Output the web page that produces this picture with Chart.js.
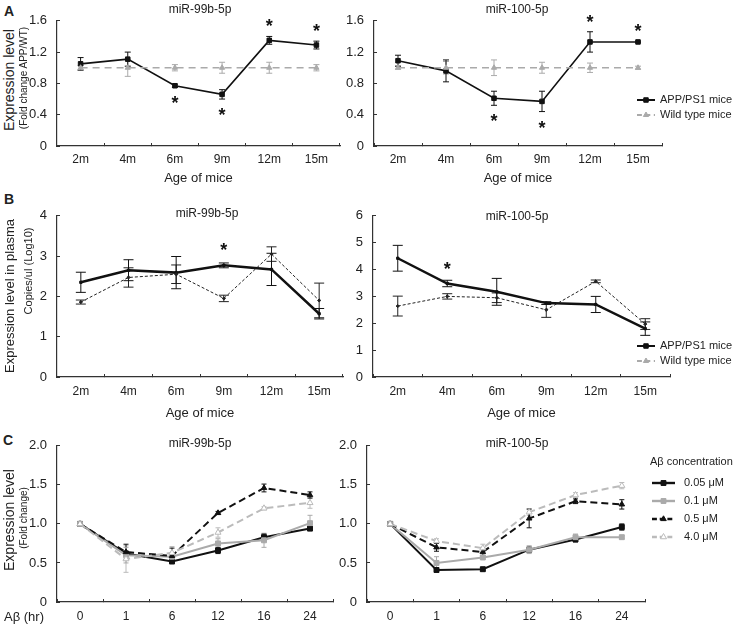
<!DOCTYPE html>
<html>
<head>
<meta charset="utf-8">
<script src="https://cdn.jsdelivr.net/npm/chart.js@4.4.0/dist/chart.umd.min.js"></script>
<style>
body{margin:0;background:#fff;font-family:"Liberation Sans",Arial,sans-serif;color:#222}
#fig{position:relative;width:734px;height:624px;overflow:hidden}
canvas{position:absolute}
.t{position:absolute;white-space:nowrap;transform:translate(-50%,-50%);line-height:1}
.r{transform:translate(-50%,-50%) rotate(-90deg)}
.ltr{position:absolute;font-weight:bold;font-size:14px;line-height:1}
</style>
</head>
<body>
<div id="fig">
  <canvas id="a1"></canvas><canvas id="a2"></canvas>
  <canvas id="b1"></canvas><canvas id="b2"></canvas>
  <canvas id="c1"></canvas><canvas id="c2"></canvas>

  <div class="ltr" style="left:4px;top:4px">A</div>
  <div class="ltr" style="left:4px;top:192px">B</div>
  <div class="ltr" style="left:3px;top:433px">C</div>

  <div class="t" style="left:200px;top:9px;font-size:12px">miR-99b-5p</div>
  <div class="t" style="left:517px;top:9px;font-size:12px">miR-100-5p</div>
  <div class="t" style="left:207px;top:213px;font-size:12px">miR-99b-5p</div>
  <div class="t" style="left:517px;top:216px;font-size:12px">miR-100-5p</div>
  <div class="t" style="left:200px;top:443px;font-size:12px">miR-99b-5p</div>
  <div class="t" style="left:517px;top:443px;font-size:12px">miR-100-5p</div>

  <div class="t r" style="left:9px;top:80px;font-size:14px">Expression level</div>
  <div class="t r" style="left:24px;top:78px;font-size:10px">(Fold change APP/WT)</div>
  <div class="t r" style="left:9px;top:296px;font-size:13px">Expression level in plasma</div>
  <div class="t r" style="left:28px;top:271px;font-size:11px">Copies/ul (Log10)</div>
  <div class="t r" style="left:9px;top:520px;font-size:14px">Expression level</div>
  <div class="t r" style="left:24px;top:518px;font-size:10px">(Fold change)</div>

  <div class="t" style="left:24px;top:616px;font-size:13px">Aβ (hr)</div>
</div>

<script>
Chart.defaults.font.family = '"Liberation Sans", Arial, sans-serif';
Chart.defaults.color = '#222';

const ages = ['2m', '4m', '6m', '9m', '12m', '15m'];
const hours = ['0', '1', '6', '12', '16', '24'];
const miceLegend = ['APP/PS1 mice', 'Wild type mice'];
const concLegend = ['0.05 μM', '0.1 μM', '0.5 μM', '4.0 μM'];

// A - fold change APP/WT
const a99App = [1.05, 1.11, 0.77, 0.66, 1.35, 1.29];
const a99AppErr = [0.08, 0.09, 0.02, 0.06, 0.05, 0.05];
const a99Wt = [1, 1, 1, 1, 1, 1];
const a99WtErr = [0.03, 0.11, 0.04, 0.07, 0.07, 0.04];
const a99Stars = ['', '', 'down', 'down', 'up', 'up'];

const a100App = [1.09, 0.96, 0.61, 0.57, 1.33, 1.33];
const a100AppErr = [0.07, 0.14, 0.09, 0.13, 0.13, 0.01];
const a100Wt = [1, 1, 1, 1, 1, 1];
const a100WtErr = [0.02, 0.08, 0.10, 0.07, 0.06, 0.02];
const a100Stars = ['', '', 'down', 'down', 'up', 'up'];

// B - copies/ul in plasma (log10)
const b99App = [2.35, 2.65, 2.59, 2.77, 2.67, 1.57];
const b99AppErr = [0.25, 0.26, 0.40, 0.06, 0.40, 0.13];
const b99Wt = [1.86, 2.47, 2.55, 1.95, 3.05, 1.90];
const b99WtErr = [0.05, 0.24, 0.23, 0.08, 0.18, 0.43];
const b99Stars = ['', '', '', 'up', '', ''];

const b100App = [4.42, 3.48, 3.17, 2.75, 2.70, 1.80];
const b100AppErr = [0.48, 0.12, 0.50, 0.05, 0.30, 0.25];
const b100Wt = [2.64, 3.00, 2.95, 2.50, 3.56, 1.97];
const b100WtErr = [0.37, 0.10, 0.18, 0.28, 0.05, 0.20];
const b100Stars = ['', 'up', '', '', '', ''];

// C - fold change after Abeta treatment
const c99c005 = [1, 0.62, 0.52, 0.66, 0.83, 0.94];
const c99c005Err = [0, 0.03, 0.02, 0.04, 0.04, 0.02];
const c99c01 = [1, 0.60, 0.58, 0.75, 0.79, 1.01];
const c99c01Err = [0, 0.10, 0.04, 0.06, 0.09, 0.10];
const c99c05 = [1, 0.64, 0.59, 1.14, 1.46, 1.37];
const c99c05Err = [0, 0.10, 0.10, 0.02, 0.05, 0.04];
const c99c40 = [1, 0.55, 0.63, 0.89, 1.20, 1.27];
const c99c40Err = [0, 0.17, 0.08, 0.06, 0.02, 0.07];

const c100c005 = [1, 0.41, 0.42, 0.67, 0.80, 0.96];
const c100c005Err = [0, 0.02, 0.02, 0.03, 0.03, 0.04];
const c100c01 = [1, 0.50, 0.57, 0.67, 0.83, 0.83];
const c100c01Err = [0, 0.08, 0.02, 0.05, 0.04, 0.02];
const c100c05 = [1, 0.70, 0.64, 1.07, 1.29, 1.25];
const c100c05Err = [0, 0.05, 0.05, 0.12, 0.03, 0.06];
const c100c40 = [1, 0.78, 0.69, 1.15, 1.37, 1.49];
const c100c40Err = [0, 0.03, 0.05, 0.04, 0.03, 0.04];

const st = {
  appA: {color: '#111', width: 1.6, dash: [], point: 'rect', r: 3.2, fill: '#111'},
  wtA: {color: '#aaa', width: 1.6, dash: [7, 5], point: 'triangle', r: 3, fill: '#aaa'},
  appB: {color: '#111', width: 2.5, dash: [], point: 'rect', r: 1.6, fill: '#111'},
  wtB: {color: '#222', width: 1, dash: [3, 2], point: 'rectRot', r: 1.6, fill: '#222'},
  c005: {color: '#111', width: 2, dash: [], point: 'rect', r: 3.5, fill: '#111'},
  c01: {color: '#aaa', width: 2, dash: [], point: 'rect', r: 3.5, fill: '#aaa'},
  c05: {color: '#111', width: 2, dash: [7, 4], point: 'triangle', r: 3.2, fill: '#111'},
  c40: {color: '#bbb', width: 2, dash: [7, 4], point: 'triangle', r: 3.5, fill: '#fff'}
};

function ds(label, data, err, s, stars) {
  return {
    label, data, err, stars, st: s,
    borderColor: s.color, borderWidth: s.width, borderDash: s.dash,
    pointStyle: s.point, pointRadius: s.r, pointBackgroundColor: s.fill,
    pointBorderColor: s.color, pointBorderWidth: 1, fill: false, tension: 0
  };
}

function marker(ctx, s, x, y) {
  const r = s.r;
  ctx.fillStyle = s.fill; ctx.strokeStyle = s.color; ctx.lineWidth = 1; ctx.setLineDash([]);
  ctx.beginPath();
  if (s.point === 'triangle') {
    ctx.moveTo(x, y - r); ctx.lineTo(x + r * 0.87, y + r * 0.5); ctx.lineTo(x - r * 0.87, y + r * 0.5); ctx.closePath();
  } else {
    ctx.rect(x - r * 0.7, y - r * 0.7, r * 1.4, r * 1.4);
  }
  ctx.fill(); ctx.stroke();
}

// error bars, significance stars and the legends
const extras = {
  id: 'extras',
  beforeDatasetsDraw(chart, args, o) {
    const ctx = chart.ctx, ys = chart.scales.y;
    chart.data.datasets.forEach((d, i) => {
      const meta = chart.getDatasetMeta(i);
      ctx.save();
      ctx.strokeStyle = d.st.color; ctx.lineWidth = 1; ctx.setLineDash([]);
      d.data.forEach((v, j) => {
        const e = d.err[j];
        if (!e) return;
        const x = meta.data[j].x, t = ys.getPixelForValue(v + e), b = ys.getPixelForValue(v - e), c = o.cap;
        ctx.beginPath();
        ctx.moveTo(x, t); ctx.lineTo(x, b);
        ctx.moveTo(x - c, t); ctx.lineTo(x + c, t);
        ctx.moveTo(x - c, b); ctx.lineTo(x + c, b);
        ctx.stroke();
      });
      ctx.restore();
    });
  },
  afterDatasetsDraw(chart, args, o) {
    const ctx = chart.ctx, ys = chart.scales.y;
    ctx.save();
    ctx.font = 'bold 18px "Liberation Sans", Arial';
    ctx.textAlign = 'center'; ctx.textBaseline = 'middle'; ctx.fillStyle = '#111';
    chart.data.datasets.forEach((d, i) => {
      if (!d.stars) return;
      const meta = chart.getDatasetMeta(i);
      d.stars.forEach((s, j) => {
        if (!s) return;
        const v = d.data[j], e = d.err[j];
        const y = s === 'up' ? ys.getPixelForValue(v + e) - o.starGap : ys.getPixelForValue(v - e) + o.starGap;
        ctx.fillText('*', meta.data[j].x, y + 4);
      });
    });
    ctx.restore();

    const L = o.legend;
    if (!L) return;
    ctx.save();
    ctx.font = L.size + 'px "Liberation Sans", Arial';
    ctx.textBaseline = 'middle'; ctx.textAlign = 'left'; ctx.fillStyle = '#222';
    if (L.title) ctx.fillText(L.title, L.tx, L.ty);
    L.items.forEach((it, k) => {
      const y = L.y + k * L.gap;
      ctx.strokeStyle = it.st.color; ctx.lineWidth = it.st.width + 0.4; ctx.setLineDash(it.st.dash.map(v => v * 0.7));
      ctx.beginPath(); ctx.moveTo(L.x, y); ctx.lineTo(L.x + L.len, y); ctx.stroke();
      marker(ctx, it.st, L.x + L.len / 2, y);
      ctx.fillStyle = '#222';
      ctx.fillText(it.label, L.x + L.len + L.pad, y);
    });
    ctx.restore();
  }
};

const fmt1 = v => v === 0 ? '0' : v.toFixed(1);
const fmt0 = v => String(v);

function make(id, box, labels, datasets, y, ext) {
  const cv = document.getElementById(id);
  cv.style.left = box.left + 'px'; cv.style.top = box.top + 'px';
  cv.width = box.w; cv.height = box.h;
  return new Chart(cv, {
    type: 'line',
    data: {labels, datasets},
    options: {
      responsive: false, animation: false,
      layout: {padding: {top: box.pt, right: box.pr, left: 0, bottom: 0}},
      plugins: {legend: {display: false}, tooltip: {enabled: false}, extras: ext},
      scales: {
        x: {
          offset: true,
          grid: {offset: true, drawOnChartArea: false, tickLength: -3, color: '#333'},
          border: {color: '#333', width: 1.2},
          ticks: {font: {size: 12}, color: '#222', padding: box.xp, maxRotation: 0, autoSkip: false},
          title: {display: !!box.xt, text: 'Age of mice', font: {size: 13}, color: '#222', padding: {top: 0, bottom: box.xtb || 0}},
          afterFit: s => { s.height = box.xh; }
        },
        y: {
          min: y.min, max: y.max,
          grid: {drawOnChartArea: false, tickLength: -3, color: '#333'},
          border: {color: '#333', width: 1.2},
          ticks: {stepSize: y.step, font: {size: 13}, color: '#222', padding: 13, callback: y.fmt},
          afterFit: s => { s.width = box.yw; }
        }
      }
    },
    plugins: [extras]
  });
}

const miceItems = [{label: miceLegend[0], st: st.appA}, {label: miceLegend[1], st: st.wtA}];
const concItems = [
  {label: concLegend[0], st: st.c005}, {label: concLegend[1], st: st.c01},
  {label: concLegend[2], st: st.c05}, {label: concLegend[3], st: st.c40}
];

const yA = {min: 0, max: 1.6, step: 0.4, fmt: fmt1};
const yC = {min: 0, max: 2, step: 0.5, fmt: fmt1};

make('a1', {left: 20, top: 0, w: 330, h: 195, yw: 37, pt: 15, pr: 10, xh: 49, xp: 9, xt: true, xtb: 9},
  ages, [ds('WT', a99Wt, a99WtErr, st.wtA), ds('APP', a99App, a99AppErr, st.appA, a99Stars)],
  yA, {cap: 3, starGap: 13});

make('a2', {left: 334, top: 0, w: 400, h: 195, yw: 40, pt: 15, pr: 72, xh: 49, xp: 9, xt: true, xtb: 9},
  ages, [ds('WT', a100Wt, a100WtErr, st.wtA), ds('APP', a100App, a100AppErr, st.appA, a100Stars)],
  yA, {cap: 3, starGap: 13, legend: {x: 303, y: 100, gap: 15, len: 18, pad: 5, size: 11, items: miceItems}});

make('b1', {left: 20, top: 195, w: 330, h: 230, yw: 37, pt: 13, pr: 7, xh: 48, xp: 10, xt: true, xtb: 4},
  ages, [ds('WT', b99Wt, b99WtErr, st.wtB), ds('APP', b99App, b99AppErr, st.appB, b99Stars)],
  {min: 0, max: 4, step: 1, fmt: fmt0}, {cap: 5, starGap: 16});

make('b2', {left: 334, top: 195, w: 400, h: 230, yw: 39, pt: 7, pr: 64, xh: 48, xp: 10, xt: true, xtb: 4},
  ages, [ds('WT', b100Wt, b100WtErr, st.wtB), ds('APP', b100App, b100AppErr, st.appB, b100Stars)],
  {min: 0, max: 6, step: 1, fmt: fmt0},
  {cap: 5, starGap: 14, legend: {x: 303, y: 151, gap: 15, len: 18, pad: 5, size: 11, items: miceItems}});

make('c1', {left: 20, top: 425, w: 330, h: 199, yw: 37, pt: 20, pr: 17, xh: 22, xp: 10},
  hours, [
    ds('4.0', c99c40, c99c40Err, st.c40), ds('0.5', c99c05, c99c05Err, st.c05),
    ds('0.1', c99c01, c99c01Err, st.c01), ds('0.05', c99c005, c99c005Err, st.c005)
  ], yC, {cap: 2.5, starGap: 12});

make('c2', {left: 334, top: 425, w: 400, h: 199, yw: 33, pt: 20, pr: 89, xh: 22, xp: 10},
  hours, [
    ds('4.0', c100c40, c100c40Err, st.c40), ds('0.5', c100c05, c100c05Err, st.c05),
    ds('0.1', c100c01, c100c01Err, st.c01), ds('0.05', c100c005, c100c005Err, st.c005)
  ], yC,
  {cap: 2.5, starGap: 12, legend: {x: 318, y: 58, gap: 18, len: 23, pad: 9, size: 11, title: 'Aβ concentration', tx: 316, ty: 37, items: concItems}});
</script>
</body>
</html>
